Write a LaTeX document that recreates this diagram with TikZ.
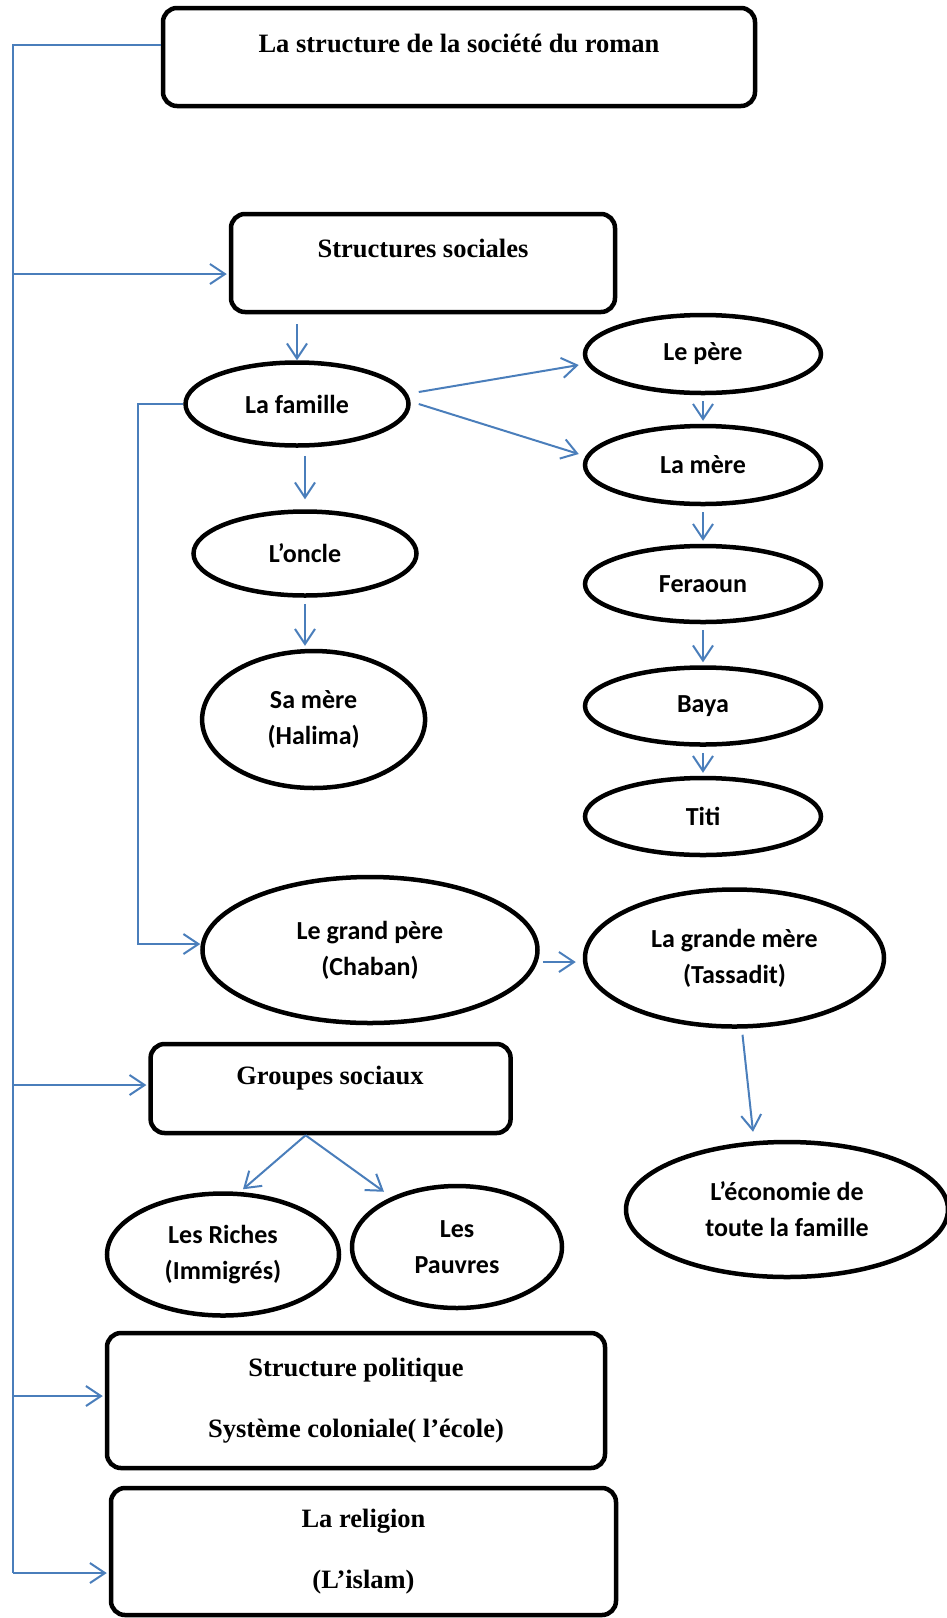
\documentclass[tikz,border=0pt]{standalone}
\usepackage{fontspec}
\setmainfont{Liberation Serif}
\newfontfamily\calibri{Carlito}
\usepackage{tikz}
\usetikzlibrary{positioning,shapes.geometric,arrows.meta,calc}

\definecolor{bleulien}{RGB}{74,126,187}

\tikzset{
  boite/.style={draw, line width=4.5pt, rounded corners=14pt, inner sep=0pt},
  boitetxt/.style={font=\fontsize{26.5}{61}\selectfont\bfseries, align=center},
  bulle/.style={draw, ellipse, line width=4.5pt, inner sep=0pt, align=center,
    font=\calibri\bfseries\fontsize{26}{36}\selectfont},
  trait/.style={draw=bleulien, line width=2pt},
  lien/.style={trait, -{Straight Barb[length=15pt,width=20pt]}}
}

\begin{document}
\begin{tikzpicture}[x=1pt, y=-1pt]
\useasboundingbox (0,0) rectangle (946,1618);

% les cadres
\node[boite, minimum width=592pt, minimum height=98pt] (titre) at (459,57) {};
\node[boitetxt, anchor=base] (titre-txt) at (459,52) {La structure de la société du roman};
\node[boite, minimum width=384pt, minimum height=98pt] (sociales) at (423,263) {};
\node[boitetxt, anchor=base] (sociales-txt) at (423,257) {Structures sociales};
\node[boite, minimum width=360pt, minimum height=89pt] (groupes) at (330.6,1088.5) {};
\node[boitetxt, anchor=base] (groupes-txt) at (330,1084) {Groupes sociaux};
\node[boite, boitetxt, minimum width=498pt, minimum height=135pt] (politique) at (356,1400.5) {Structure politique\\Système coloniale( l’école)};
\node[boite, boitetxt, minimum width=505pt, minimum height=127pt] (religion) at (363.5,1551.5) {La religion\\(L’islam)};

% la famille
\node[bulle, minimum width=223pt, minimum height=83pt] (famille) at (297,404) {La famille};
\node[bulle, minimum width=236pt, minimum height=78pt] (pere) at (703,354) {Le père};
\node[bulle, minimum width=236pt, minimum height=78pt] (mere) at (703,465) {La mère};
\node[bulle, minimum width=236pt, minimum height=76pt] (feraoun) at (703,584) {Feraoun};
\node[bulle, minimum width=236pt, minimum height=77pt] (baya) at (703,706) {Baya};
\node[bulle, minimum width=236pt, minimum height=77pt] (titi) at (703,816.5) {Titi};
\node[bulle, minimum width=223pt, minimum height=84pt] (oncle) at (305,553.5) {L’oncle};
\node[bulle, minimum width=223pt, minimum height=137pt] (samere) at (313.6,719.5) {Sa mère\\(Halima)};
\node[bulle, minimum width=335pt, minimum height=146pt] (grandpere) at (370,950) {Le grand père\\(Chaban)};
\node[bulle, minimum width=299pt, minimum height=137pt] (grandemere) at (734.5,958) {La grande mère\\(Tassadit)};
\node[bulle, minimum width=322pt, minimum height=135pt] (economie) at (787,1209.5) {L’économie de\\toute la famille};

% les groupes
\node[bulle, minimum width=232pt, minimum height=122pt] (riches) at (223,1254.5) {Les Riches\\(Immigrés)};
\node[bulle, minimum width=210pt, minimum height=122pt] (pauvres) at (457,1247) {Les\\Pauvres};

% axe de gauche
\coordinate (dos-s) at (13.4,274);
\coordinate (dos-g) at (13.4,1085);
\coordinate (dos-p) at (13.4,1396);
\coordinate (dos-r) at (13.4,1573);
\draw[trait] ([yshift=12pt]titre.west) -| (dos-r);
\draw[lien, shorten >=2pt] (dos-s) -- (dos-s -| sociales.west);
\draw[lien, shorten >=2pt] (dos-g) -- (dos-g -| groupes.west);
\draw[lien, shorten >=2pt] (dos-p) -- (dos-p -| politique.west);
\draw[lien, shorten >=2pt] (dos-r) -- (dos-r -| religion.west);

% liens
\draw[lien] ($(famille.north |- sociales.south)+(0pt,-10pt)$) -- (famille.north);
\draw[lien] ([shift={(8pt,12pt)}]famille.east) -- ([shift={(-4pt,-11pt)}]pere.west);
\draw[lien] ([xshift=8pt]famille.east) -- ([shift={(-4pt,11pt)}]mere.west);
\foreach \a/\b in {pere/mere, mere/feraoun, feraoun/baya, baya/titi}
  \draw[lien, shorten <=6pt, shorten >=3pt] (\a) -- (\b);
\draw[lien] ($(oncle.north |- famille.south)+(0pt,-8pt)$) -- ($(oncle.north)+(0pt,10pt)$);
\draw[lien, shorten <=6pt, shorten >=3pt] (oncle.south) -- (oncle.south |- samere.north);
\draw[lien] (famille.west) -- ++(-45pt,0pt) |- ([yshift=6pt]grandpere.west);
\draw[lien] ([shift={(3pt,-12pt)}]grandpere.east) -- ([shift={(-7pt,-4pt)}]grandemere.west);
\draw[lien] ([shift={(8pt,-6pt)}]grandemere.south) -- ([shift={(-34pt,8pt)}]economie.north);
\coordinate (fourche) at ([xshift=-25pt]groupes.south);
\draw[lien] (fourche) -- ([shift={(20pt,2pt)}]riches.north);
\draw[lien] (fourche) -- ([shift={(-73pt,-8pt)}]pauvres.north);
\end{tikzpicture}
\end{document}
